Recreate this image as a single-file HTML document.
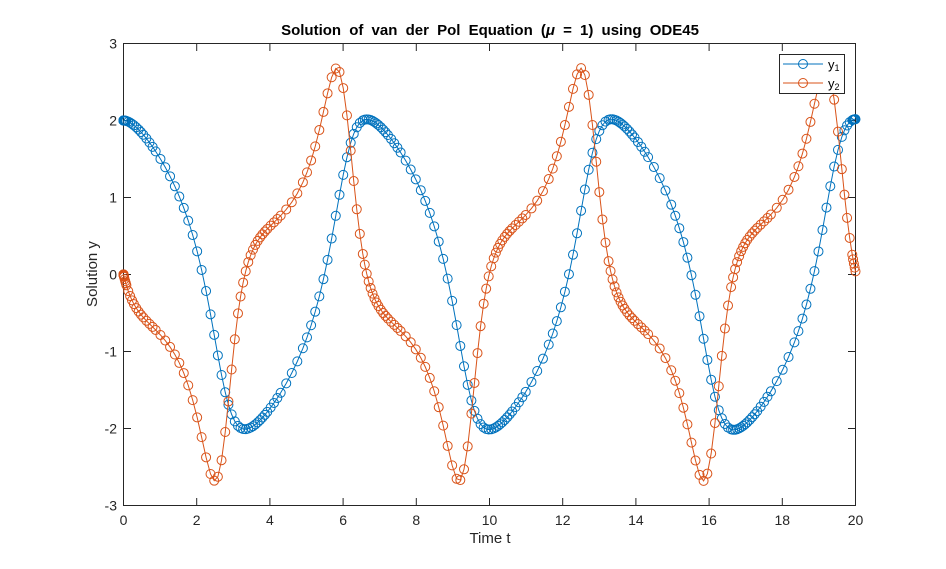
<!DOCTYPE html>
<html><head><meta charset="utf-8"><style>
html,body{margin:0;padding:0;background:#fff;}
svg{display:block;font-family:"Liberation Sans",sans-serif;}
</style></head><body>
<svg id="s" width="946" height="569" viewBox="0 0 946 569" xmlns="http://www.w3.org/2000/svg">
<rect x="0" y="0" width="946" height="569" fill="#fff"/>
<rect x="123.5" y="43.5" width="732" height="462" fill="#fff" stroke="#262626" stroke-width="1"/>
<g id="ticks" stroke="#262626" stroke-width="1"></g>
<g id="labels" font-size="14" fill="#262626"></g>
<g id="data"></g>
<text x="490" y="35" text-anchor="middle" font-size="15" font-weight="bold" fill="#000" style="word-spacing:4px">Solution of van der Pol Equation (<tspan font-style="italic">μ</tspan> = 1) using ODE45</text>
<text x="490" y="543" text-anchor="middle" font-size="15" fill="#262626">Time t</text>
<text transform="translate(97,274) rotate(-90)" text-anchor="middle" font-size="15" fill="#262626">Solution y</text>
<rect x="779.5" y="54.5" width="65" height="39" fill="#fff" stroke="#262626" stroke-width="1"/>
<line x1="783" y1="64" x2="823" y2="64" stroke="#0072BD" stroke-width="1"/>
<circle cx="803" cy="64" r="4.5" fill="none" stroke="#0072BD" stroke-width="1"/>
<line x1="783" y1="83" x2="823" y2="83" stroke="#D95319" stroke-width="1"/>
<circle cx="803" cy="83" r="4.5" fill="none" stroke="#D95319" stroke-width="1"/>
<text x="828" y="69" font-size="13" fill="#000">y<tspan font-size="9" dy="2">1</tspan></text>
<text x="828" y="88" font-size="13" fill="#000">y<tspan font-size="9" dy="2">2</tspan></text>
</svg>
<script>
(function(){
var X0=123.5,XS=36.6,Y0=274.5,YS=77;
var tk=document.getElementById('ticks'),lb=document.getElementById('labels');
var ns='http://www.w3.org/2000/svg';
function el(n,a,p){var e=document.createElementNS(ns,n);for(var k in a)e.setAttribute(k,a[k]);p.appendChild(e);return e;}
for(var i=0;i<=10;i++){var x=X0+i*2*XS;
 el('line',{x1:x,y1:505.5,x2:x,y2:498},tk);el('line',{x1:x,y1:43.5,x2:x,y2:51},tk);
 var t=el('text',{x:x,y:525,'text-anchor':'middle'},lb);t.textContent=String(i*2);}
for(var j=-3;j<=3;j++){var y=Y0-j*YS;
 el('line',{x1:123.5,y1:y,x2:131,y2:y},tk);el('line',{x1:855.5,y1:y,x2:848,y2:y},tk);
 var t=el('text',{x:117,y:y+5,'text-anchor':'end'},lb);t.textContent=String(j);}
function F(t,y){return [y[1],(1-y[0]*y[0])*y[1]-y[0]];}
var A=[1/5,3/10,4/5,8/9,1,1];
var B=[[1/5],[3/40,9/40],[44/45,-56/15,32/9],[19372/6561,-25360/2187,64448/6561,-212/729],
[9017/3168,-355/33,46732/5247,49/176,-5103/18656],[35/384,0,500/1113,125/192,-2187/6784,11/84]];
var E=[71/57600,0,-71/16695,71/1920,-17253/339200,22/525,-1/40];
var BI=[[1,-183/64,37/12,-145/128],[0,0,0,0],[0,1500/371,-1000/159,1000/371],[0,-125/32,125/12,-375/64],
[0,9477/3392,-729/106,25515/6784],[0,-11/7,11/3,-55/28],[0,3/2,-4,5/2]];
var rtol=1e-3,atol=1e-6,thr=atol/rtol,pow=1/5,t=0,tf=20,y=[2,0],f0=F(t,y);
var hmax=2,absh=Math.min(hmax,20);
var rh=Math.max(Math.abs(f0[0])/Math.max(Math.abs(y[0]),thr),Math.abs(f0[1])/Math.max(Math.abs(y[1]),thr))/(0.8*Math.pow(rtol,pow));
if(absh*rh>1)absh=1/rh;
var T=[0],Y1=[2],Y2=[0],done=false;
while(!done){
 var hmin=16*2.2e-16*Math.max(1,Math.abs(t));absh=Math.min(hmax,Math.max(hmin,absh));var h=absh;
 if(1.1*absh>=Math.abs(tf-t)){h=tf-t;absh=Math.abs(h);done=true;}
 var nofailed=true,K,ynew,tnew,err;
 while(true){
  K=[f0];
  for(var s=0;s<6;s++){var yy=[y[0],y[1]];for(var j=0;j<=s;j++){yy[0]+=h*B[s][j]*K[j][0];yy[1]+=h*B[s][j]*K[j][1];}
   if(s<5)K.push(F(t+A[s]*h,yy));else ynew=yy;}
  tnew=t+h;if(done)tnew=tf;
  K.push(F(tnew,ynew));
  err=0;for(var c=0;c<2;c++){var sm=0;for(var j=0;j<7;j++)sm+=K[j][c]*E[j];
   var sc=Math.max(Math.max(Math.abs(y[c]),Math.abs(ynew[c])),thr);err=Math.max(err,Math.abs(sm)/sc);}
  err*=absh;
  if(err>rtol){
   if(nofailed){nofailed=false;absh=Math.max(hmin,absh*Math.max(0.1,0.8*Math.pow(rtol/err,pow)));}
   else absh=Math.max(hmin,0.5*absh);
   h=absh;done=false;
  } else break;
 }
 for(var r=1;r<=3;r++){var sv=r/4,pw=[sv,sv*sv,sv*sv*sv,sv*sv*sv*sv],yi=[y[0],y[1]];
  for(var j=0;j<7;j++){var cf=0;for(var k=0;k<4;k++)cf+=BI[j][k]*pw[k];yi[0]+=h*cf*K[j][0];yi[1]+=h*cf*K[j][1];}
  T.push(t+sv*h);Y1.push(yi[0]);Y2.push(yi[1]);}
 T.push(tnew);Y1.push(ynew[0]);Y2.push(ynew[1]);
 if(nofailed){var temp=1.25*Math.pow(err/rtol,pow);if(temp>0.2)absh=absh/temp;else absh=5*absh;}
 t=tnew;y=ynew;f0=K[6];
}
var g=document.getElementById('data');
function draw(Yv,col){var d='';for(var i=0;i<T.length;i++){var px=X0+T[i]*XS,py=Y0-Yv[i]*YS;d+=(i?'L':'M')+px.toFixed(2)+' '+py.toFixed(2);}
 el('path',{d:d,fill:'none',stroke:col,'stroke-width':1},g);
 for(var i=0;i<T.length;i++)el('circle',{cx:(X0+T[i]*XS).toFixed(2),cy:(Y0-Yv[i]*YS).toFixed(2),r:4.5,fill:'none',stroke:col,'stroke-width':1},g);}
draw(Y1,'#0072BD');draw(Y2,'#D95319');
})();
</script>
</body></html>
